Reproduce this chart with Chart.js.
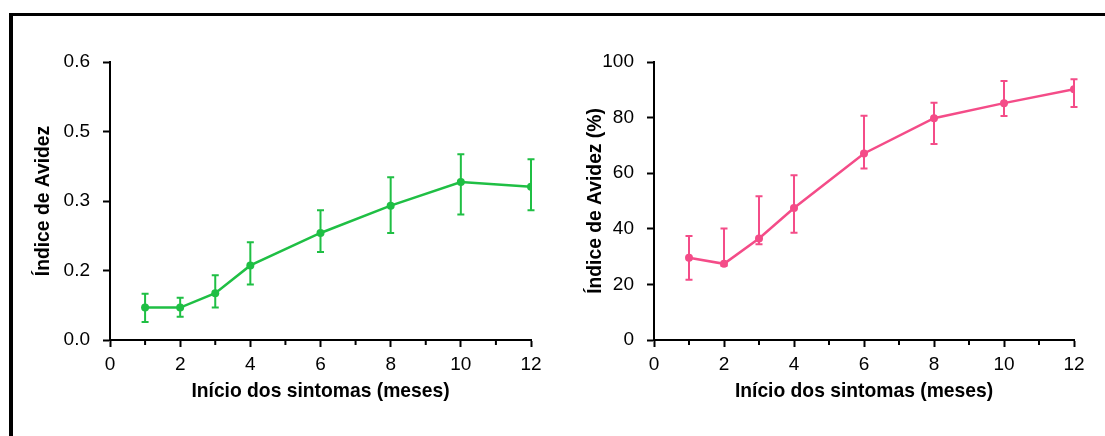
<!DOCTYPE html>
<html>
<head>
<meta charset="utf-8">
<script src="https://cdn.jsdelivr.net/npm/chart.js@4/dist/chart.umd.min.js"></script>
<style>
  html, body { margin: 0; padding: 0; background: #fff; }
  body { width: 1105px; height: 436px; position: relative; overflow: hidden; }
  #frame { position: absolute; left: 9px; top: 13px; width: 1200px; height: 500px;
           border-top: 3px solid #000; border-left: 4px solid #000; }
  canvas { position: absolute; top: 0; }
  #c1 { left: 0; }
  #c2 { left: 560px; }
</style>
</head>
<body>
<div id="frame"></div>
<canvas id="c1" width="560" height="436"></canvas>
<canvas id="c2" width="545" height="436"></canvas>
<script>
// meses desde o inicio dos sintomas
var months = [1, 2, 3, 4, 6, 8, 10, 12]

// grafico da esquerda (indice de avidez)
var leftMean = [0.070, 0.070, 0.101, 0.161, 0.231, 0.290, 0.341, 0.331]
var leftHigh = [0.100, 0.091, 0.140, 0.211, 0.280, 0.351, 0.401, 0.390]
var leftLow  = [0.039, 0.050, 0.070, 0.120, 0.190, 0.231, 0.271, 0.280]
var leftTickLabels = ['0.0', '0.2', '0.3', '0.5', '0.6']

// grafico da direita (indice de avidez %)
var rightMean = [29.6, 27.4, 36.5, 47.5, 67.1, 79.8, 85.2, 90.2]
var rightHigh = [37.4, 40.1, 51.7, 59.3, 80.7, 85.3, 93.2, 93.8]
var rightLow  = [21.7, 26.7, 34.4, 38.6, 61.7, 70.5, 80.6, 83.8]

var xTitle = 'Início dos sintomas (meses)'

Chart.defaults.font.family = '"Liberation Sans", Arial, sans-serif'
Chart.defaults.color = '#000'

// barras de erro + ticks menores do eixo x
var extras = {
    id: 'extras',
    afterDatasetsDraw: function (chart, args, opts) {
        var ctx = chart.ctx
        var x = chart.scales.x, y = chart.scales.y
        ctx.save()
        ctx.strokeStyle = opts.color
        ctx.lineWidth = 2
        opts.low.forEach(function (lo, i) {
            var px = x.getPixelForValue(months[i])
            var top = y.getPixelForValue(opts.high[i])
            var bot = y.getPixelForValue(lo)
            ctx.beginPath()
            ctx.moveTo(px, top); ctx.lineTo(px, bot)
            ctx.moveTo(px - 3.5, top); ctx.lineTo(px + 3.5, top)
            ctx.moveTo(px - 3.5, bot); ctx.lineTo(px + 3.5, bot)
            ctx.stroke()
        })
        ctx.restore()
    },
    afterDraw: function (chart) {
        var ctx = chart.ctx
        var x = chart.scales.x
        var base = chart.chartArea.bottom
        ctx.save()
        ctx.strokeStyle = '#000'
        ctx.lineWidth = 2
        x.ticks.forEach(function (t) {
            if (t.value % 2 === 1) {
                var px = x.getPixelForValue(t.value)
                ctx.beginPath()
                ctx.moveTo(px, base)
                ctx.lineTo(px, base + 5)
                ctx.stroke()
            }
        })
        ctx.restore()
    }
}

function makeChart(id, mean, low, high, color, yOpts, yTitle, yWidth, pad) {
    var yScale = Object.assign({
        min: 0,
        border: { display: true, color: '#000', width: 2 },
        grid: { drawOnChartArea: false, tickLength: 7, tickWidth: 2, tickColor: '#000' },
        title: { display: true, text: yTitle, font: { size: 19.3, weight: 'bold' }, padding: { top: pad.title, bottom: 0 } },
        afterFit: function (s) { s.width = yWidth }
    }, yOpts)
    yScale.ticks = Object.assign({ font: { size: 19 }, padding: 13 }, yOpts.ticks)

    return new Chart(document.getElementById(id), {
        type: 'line',
        data: {
            datasets: [{
                data: months.map(function (m, i) { return { x: m, y: mean[i] } }),
                borderColor: color,
                backgroundColor: color,
                borderWidth: 2.5,
                pointRadius: 4,
                pointBorderWidth: 0,
                tension: 0
            }]
        },
        options: {
            responsive: false,
            animation: false,
            layout: { padding: { top: 62, right: pad.right, bottom: 26, left: 0 } },
            plugins: {
                legend: { display: false },
                tooltip: { enabled: false },
                extras: { color: color, low: low, high: high }
            },
            scales: {
                x: {
                    type: 'linear',
                    min: 0, max: 12,
                    border: { display: true, color: '#000', width: 2 },
                    grid: {
                        drawOnChartArea: false, tickLength: 7, tickWidth: 2,
                        tickColor: function (c) { return c.tick && c.tick.value % 2 === 1 ? 'rgba(0,0,0,0)' : '#000' }
                    },
                    ticks: {
                        stepSize: 1, autoSkip: false, maxRotation: 0, padding: 6,
                        font: { size: 19 },
                        callback: function (v) { return v % 2 === 0 ? v : '' }
                    },
                    title: { display: true, text: xTitle, font: { size: 19.3, weight: 'bold' }, padding: { top: 0, bottom: 7 } },
                    afterFit: function (s) { s.height = 70 }
                },
                y: yScale
            }
        },
        plugins: [extras]
    })
}

makeChart('c1', leftMean, leftLow, leftHigh, '#1fbf44', {
    max: 0.6,
    ticks: { stepSize: 0.15, callback: function (v, i) { return leftTickLabels[i] } }
}, 'Índice de Avidez', 110, { title: 32, right: 29 })

makeChart('c2', rightMean, rightLow, rightHigh, '#f44c88', {
    max: 100,
    ticks: { stepSize: 20 }
}, 'Índice de Avidez (%)', 94, { title: 24, right: 31 })
</script>
</body>
</html>
